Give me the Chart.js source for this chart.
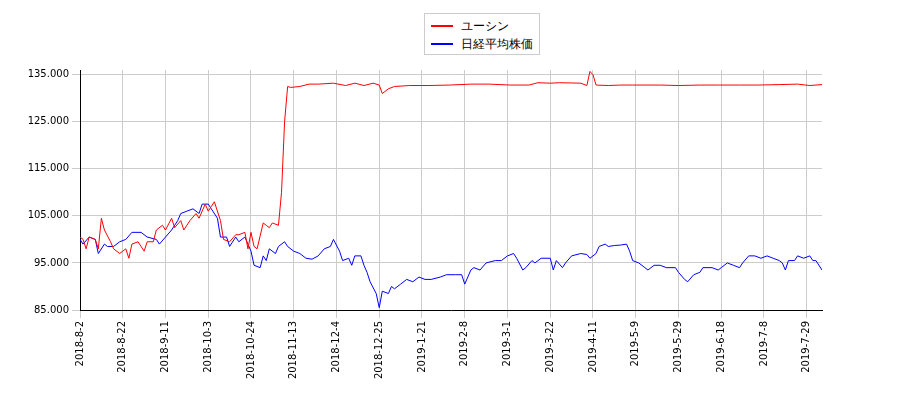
<!DOCTYPE html>
<html><head><meta charset="utf-8">
<script src="https://cdn.jsdelivr.net/npm/chart.js@4"></script>
<style>
body{margin:0;background:#fff;font-family:"DejaVu Sans",sans-serif}
#wrap{position:relative;width:900px;height:400px}
#legend{position:absolute;left:424px;top:13px;width:116px;height:42px;border:1px solid #ccc;background:#fff;font-size:12px;box-sizing:border-box;padding:3px 6px}
.it{display:flex;align-items:center;height:18px}
.ln{width:22px;height:0;border-top:2px solid;margin-right:8px}
</style></head><body>
<div id="wrap"><canvas id="c" width="900" height="400"></canvas>
<div id="legend"><div class="it"><span class="ln" style="border-color:#f00"></span>ユーシン</div><div class="it"><span class="ln" style="border-color:#00f"></span>日経平均株価</div></div></div>
<script>
const tickLabels=["2018-8-2","2018-8-22","2018-9-11","2018-10-3","2018-10-24","2018-11-13","2018-12-4","2018-12-25","2019-1-21","2019-2-8","2019-3-1","2019-3-22","2019-4-11","2019-5-9","2019-5-29","2019-6-18","2019-7-8","2019-7-29"];
const yTicks=[85000,95000,105000,115000,125000,135000];
const redDay=[0,1,2,3,5,6,7,8,10,11,13,15,16,17,19,21,22,24,25,27,28,30,31,33,34,36,38,39,41,42,43,44,46,47,49,51,52,54,55,56,57,58,60,61,62,63,65,66,67,68,69,72,75,78,83,87,90,93,96,98,99,101,103,108,114,121,128,134,141,147,150,154,157,164,166,167,168,169,173,177,181,190,196,203,209,216,222,229,235,239,243];
const redVal=[100.5,100,98,100.5,100,98,104.5,102,99.5,98,97,98,96,99,99.5,97.5,99.5,99.5,102,103,102,104.5,102.5,104,102,104,105.5,104.5,107.5,106,107,108,104,100,99.5,101,101,101.5,98,101.5,98.5,98,103.5,103,102.5,103.5,103,110,125,132.5,132.3,132.5,133,133,133.2,132.7,133.2,132.7,133.2,132.8,131,132,132.5,132.7,132.7,132.8,133,133,132.8,132.8,133.3,133.2,133.3,133.2,132.7,135.7,135,132.8,132.7,132.8,132.8,132.8,132.7,132.8,132.8,132.8,132.8,132.9,133,132.7,132.9];
const blueDay=[0,1,3,5,6,8,9,11,13,15,17,20,22,25,26,28,30,32,33,35,37,39,40,42,43,45,46,48,49,51,52,54,56,57,59,60,61,62,64,65,67,68,70,72,74,76,78,80,82,83,85,86,88,89,90,92,93,94,95,97,98,99,101,102,103,105,107,109,111,113,115,118,120,123,125,126,128,129,131,133,136,138,140,142,143,145,146,148,149,151,154,155,156,158,159,161,164,166,167,169,170,172,173,175,177,179,180,181,183,185,186,188,190,192,195,196,198,199,201,203,204,207,209,210,212,214,216,217,219,221,223,225,227,229,230,231,232,234,235,237,239,240,241,243];
const blueVal=[100,99,100.5,100,97,99,98.5,98.5,99.5,100,101.5,101.5,100.5,100,99,100.5,102,104,105.5,106,106.5,105.5,107.5,107.5,106.5,104.5,100.5,100.5,98.5,100.5,99.5,100.5,97.5,94.5,94,96.5,95.5,98,97,98.5,99.5,98.5,97.5,97,96,95.8,96.5,98,98.5,100,97.5,95.5,96,94.5,96.5,96.5,94.5,93,91,88.5,85.5,89,88.5,90,89.5,90.5,91.5,91,92,91.5,91.5,92,92.5,92.5,92.5,90.5,93.5,94,93.5,95,95.5,95.5,96.5,97,96,93.5,94,95.5,95,96,96,93.5,95.5,94,95,96.5,97,96.8,96,97,98.5,99,98.5,98.7,98.8,99,97.5,95.5,95,94,93.5,94.5,94.5,94,94,93,91.5,91,92.5,93,94,94,93.5,94,95,94.5,94,95,96.5,96.5,96,96.5,96,95.5,95,93.5,95.5,95.5,96.5,96,96.5,95.5,95.5,93.5];
const pts=(d,v)=>d.map((x,i)=>({x:x,y:v[i]*1000}));
new Chart(document.getElementById('c'),{type:'line',
data:{datasets:[
{data:pts(redDay,redVal),borderColor:'#f00',borderWidth:1,pointRadius:0,tension:0},
{data:pts(blueDay,blueVal),borderColor:'#00f',borderWidth:1,pointRadius:0,tension:0}]},
options:{responsive:false,animation:false,layout:{padding:{top:70,right:78}},
plugins:{legend:{display:false},tooltip:{enabled:false}},
scales:{
x:{type:'linear',min:0,max:243,grid:{color:'#ccc'},border:{color:'#000'},
 afterBuildTicks:a=>{a.ticks=tickLabels.map((t,i)=>({value:i*14}));},
 afterFit:a=>{a.height=90;},
 ticks:{autoSkip:false,maxRotation:90,minRotation:90,color:'#000',font:{size:10,family:'DejaVu Sans'},callback:v=>tickLabels[Math.round(v/14)]}},
y:{min:85000,max:136000,grid:{color:'#ccc'},border:{color:'#000'},
 afterBuildTicks:a=>{a.ticks=yTicks.map(v=>({value:v}));},
 afterFit:a=>{a.width=80;},
 ticks:{autoSkip:false,color:'#000',font:{size:10,family:'DejaVu Sans'},callback:v=>Math.floor(v/1000)+'.'+String(v%1000).padStart(3,'0')}}}}});
</script></body></html>
